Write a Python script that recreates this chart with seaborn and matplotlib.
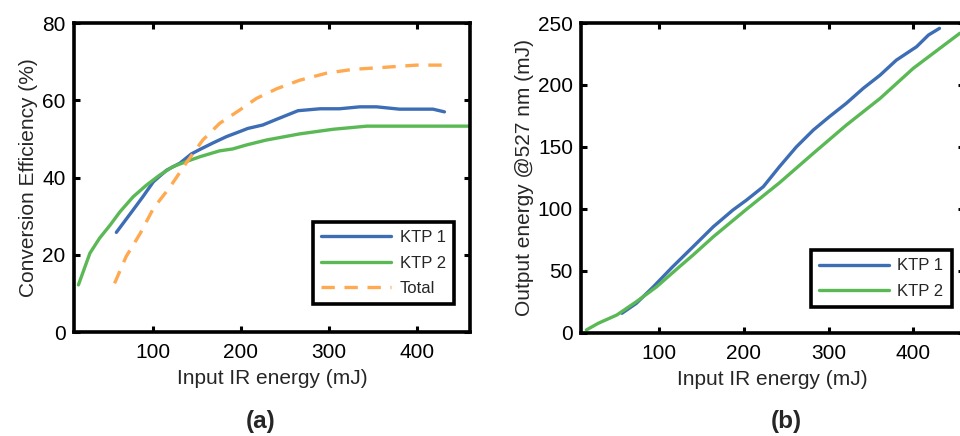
import matplotlib
matplotlib.use("Agg")
import matplotlib.pyplot as plt
import seaborn as sns
import pandas as pd

# Conversion efficiency (%) vs input IR energy (mJ)
ktp1_eff_x = [59, 78, 89, 101, 116, 131, 144, 154, 169, 184, 199, 208, 225, 241, 265, 290, 312, 335, 354, 380, 418, 431]
ktp1_eff_y = [25.8, 31.6, 35.0, 38.9, 41.9, 43.7, 46.1, 47.3, 49.0, 50.6, 51.9, 52.7, 53.6, 55.1, 57.3, 57.8, 57.8, 58.3, 58.3, 57.7, 57.7, 57.0]

ktp2_eff_x = [16, 29, 40, 52, 63, 78, 93, 108, 123, 138, 154, 176, 191, 206, 229, 267, 305, 343, 400, 460]
ktp2_eff_y = [12.2, 20.4, 24.3, 27.7, 31.1, 35.0, 38.0, 40.6, 42.8, 44.1, 45.4, 46.9, 47.4, 48.4, 49.7, 51.3, 52.5, 53.3, 53.3, 53.3]

total_eff_x = [57, 70, 86, 101, 120, 138, 157, 176, 199, 218, 241, 267, 297, 327, 361, 399, 433]
total_eff_y = [12.6, 19.5, 25.5, 32.0, 37.6, 43.7, 49.7, 54.0, 57.5, 60.5, 63.0, 65.2, 67.0, 68.0, 68.5, 69.1, 69.1]

# Output energy @527 nm (mJ) vs input IR energy (mJ)
ktp1_out_x = [56, 73, 93, 116, 140, 164, 187, 203, 223, 242, 262, 282, 301, 321, 341, 361, 380, 404, 418, 431]
ktp1_out_y = [15.7, 23.7, 37.0, 53.3, 69.4, 85.6, 99.0, 107.0, 117.9, 134.0, 150.0, 163.6, 174.4, 185.2, 197.3, 208.0, 220.0, 230.9, 240.3, 245.7]

ktp2_out_x = [14, 28, 50, 73, 97, 124, 140, 164, 203, 242, 282, 321, 361, 400, 455]
ktp2_out_y = [2.2, 7.6, 14.3, 25.0, 37.1, 53.3, 62.7, 77.5, 99.6, 121.0, 144.8, 167.6, 189.2, 213.4, 241.7]

BLUE = "#3d6db5"
GREEN = "#5ab955"
ORANGE = "#ffa950"

sns.set_theme(style="ticks")
plt.rcParams["font.family"] = ["Liberation Sans", "DejaVu Sans"]
plt.rcParams.update({
    "axes.linewidth": 2.6,
    "xtick.direction": "in",
    "ytick.direction": "in",
    "xtick.top": True,
    "ytick.right": True,
    "xtick.major.width": 2.2,
    "ytick.major.width": 2.2,
    "xtick.major.size": 4,
    "ytick.major.size": 4,
    "xtick.labelsize": 15,
    "ytick.labelsize": 15,
    "axes.labelsize": 15,
})

fig = plt.figure(figsize=(9.6, 4.36), dpi=100)
ax1 = fig.add_axes([0.0771, 0.2385, 0.4125, 0.7087])
ax2 = fig.add_axes([0.6055, 0.2369, 0.3987, 0.7103])

lw = 2.4
sns.lineplot(x=ktp1_eff_x, y=ktp1_eff_y, ax=ax1, color=BLUE, lw=lw, label="KTP 1", sort=False)
sns.lineplot(x=ktp2_eff_x, y=ktp2_eff_y, ax=ax1, color=GREEN, lw=lw, label="KTP 2", sort=False)
sns.lineplot(x=total_eff_x, y=total_eff_y, ax=ax1, color=ORANGE, lw=lw, label="Total",
             linestyle=(0, (4.0, 2.9)), sort=False)

sns.lineplot(x=ktp1_out_x, y=ktp1_out_y, ax=ax2, color=BLUE, lw=lw, label="KTP 1", sort=False)
sns.lineplot(x=ktp2_out_x, y=ktp2_out_y, ax=ax2, color=GREEN, lw=lw, label="KTP 2", sort=False)

ax1.set_xlim(11, 460)
ax1.set_ylim(0, 80)
ax1.set_xticks([100, 200, 300, 400])
ax1.set_yticks([0, 20, 40, 60, 80])
ax1.set_xlabel("Input IR energy (mJ)", labelpad=5)
ax1.set_ylabel("Conversion Efficiency (%)", labelpad=3)

ax2.set_xlim(8, 460)
ax2.set_ylim(0, 250)
ax2.set_xticks([100, 200, 300, 400])
ax2.set_yticks([0, 50, 100, 150, 200, 250])
ax2.set_xlabel("Input IR energy (mJ)", labelpad=5)
ax2.set_ylabel("Output energy @527 nm (mJ)", labelpad=3)

for ax in (ax1, ax2):
    for s in ax.spines.values():
        s.set_color("black")
    ax.tick_params(colors="black")
    ax.tick_params(axis="x", pad=8)
    ax.tick_params(axis="y", pad=6)

leg_kw = dict(frameon=True, fancybox=False, edgecolor="black", fontsize=12,
              handlelength=4.2, handletextpad=0.5, labelspacing=0.62,
              borderpad=0.5, borderaxespad=0, framealpha=1)
leg1 = ax1.legend(loc="lower right", bbox_to_anchor=(0.96, 0.09), **leg_kw)
leg1.get_frame().set_linewidth(2.6)
leg2 = ax2.legend(loc="lower right", bbox_to_anchor=(0.968, 0.083), **leg_kw)
leg2.get_frame().set_linewidth(2.6)

fig.text(0.271, 0.034, "(a)", fontsize=17.5, fontweight="bold", ha="center", va="center")
fig.text(0.8195, 0.034, "(b)", fontsize=17.5, fontweight="bold", ha="center", va="center")

fig.savefig("out.png", dpi=100)
